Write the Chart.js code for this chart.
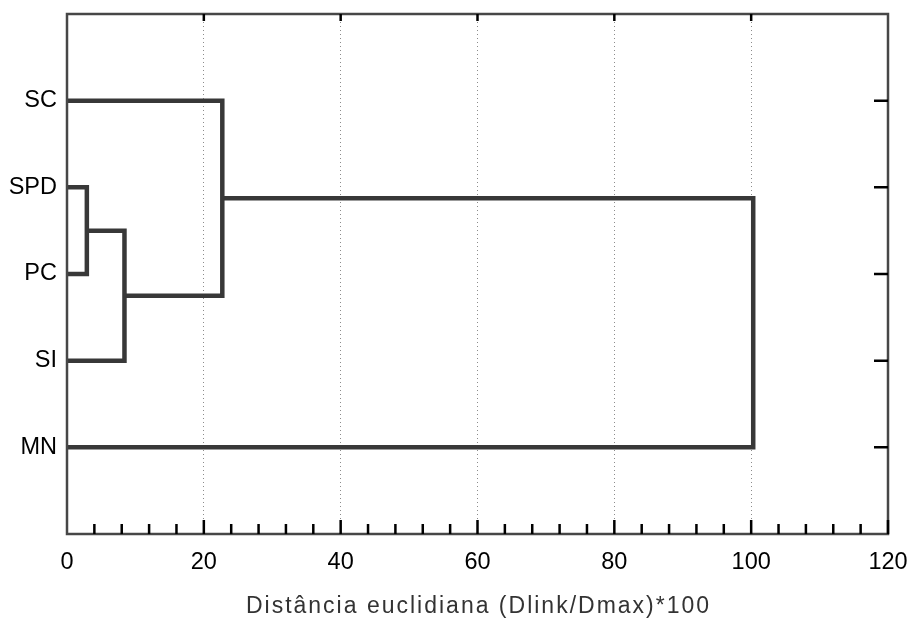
<!DOCTYPE html>
<html lang="pt">
<head>
    <meta charset="UTF-8">
    <title>Dendrograma</title>
    <style>
        body {
            margin: 0;
            background: #ffffff;
        }
        .chart-container {
            width: 911px;
            height: 622px;
        }
    </style>
</head>
<body>
    <div class="chart-container">
        <canvas id="dendroChart" width="911" height="622"></canvas>
    </div>
    <script src="https://cdn.jsdelivr.net/npm/chart.js"></script>
    <script>
        // leaves from top to bottom
        const leaves = ['SC', 'SPD', 'PC', 'SI', 'MN'];
        // each merge joins two clusters (leaves are 0..4, merges are 5, 6, ...)
        const mergePairs = [[1, 2], [5, 3], [0, 6], [7, 4]];
        const mergeHeights = [2.9, 8.4, 22.7, 100.3];
        const xTicks = [0, 20, 40, 60, 80, 100, 120];
        const xTitle = 'Distância euclidiana (Dlink/Dmax)*100';

        const lineColor = '#383838';
        const fontFamily = 'Arial, "Liberation Sans", sans-serif';

        // position of every cluster: leaves at x=0, merges at their height
        const nodes = leaves.map((name, i) => ({ x: 0, y: i + 1 }));
        const datasets = [];
        mergePairs.forEach((pair, i) => {
            const a = nodes[pair[0]];
            const b = nodes[pair[1]];
            const h = mergeHeights[i];
            datasets.push({
                data: [
                    { x: a.x, y: a.y },
                    { x: h, y: a.y },
                    { x: h, y: b.y },
                    { x: b.x, y: b.y }
                ],
                showLine: true,
                borderColor: lineColor,
                borderWidth: 4.5,
                borderJoinStyle: 'miter',
                borderCapStyle: 'butt',
                pointRadius: 0,
                fill: false,
                tension: 0
            });
            nodes.push({ x: h, y: (a.y + b.y) / 2 });
        });

        // frame, inward tick marks and the spaced-out axis title
        const framePlugin = {
            id: 'frame',
            afterDatasetsDraw(chart) {
                const { ctx, chartArea: area, scales } = chart;
                ctx.save();
                ctx.strokeStyle = '#474747';
                ctx.lineWidth = 2.5;
                ctx.strokeRect(area.left, area.top, area.right - area.left, area.bottom - area.top);

                ctx.strokeStyle = '#000000';
                ctx.lineWidth = 2.5;
                ctx.beginPath();
                for (let v = 4; v <= 120; v += 4) {
                    const px = scales.x.getPixelForValue(v);
                    const major = v % 20 === 0;
                    ctx.moveTo(px, area.bottom);
                    ctx.lineTo(px, area.bottom - (major ? 14 : 10));
                    if (major && v < 120) {
                        ctx.moveTo(px, area.top);
                        ctx.lineTo(px, area.top + 7);
                    }
                }
                leaves.forEach((name, i) => {
                    const py = scales.y.getPixelForValue(i + 1);
                    ctx.moveTo(area.right, py);
                    ctx.lineTo(area.right - 14, py);
                });
                ctx.stroke();

                ctx.font = '23px ' + fontFamily;
                ctx.fillStyle = '#333333';
                ctx.textAlign = 'center';
                ctx.textBaseline = 'middle';
                ctx.letterSpacing = '2px';
                ctx.fillText(xTitle, (area.left + area.right) / 2 + 1, 607);
                ctx.restore();
            }
        };

        new Chart(document.getElementById('dendroChart'), {
            type: 'scatter',
            data: { datasets: datasets },
            options: {
                responsive: false,
                animation: false,
                layout: { padding: { top: 14, right: 23, left: 0, bottom: 0 } },
                plugins: {
                    legend: { display: false },
                    tooltip: { enabled: false }
                },
                scales: {
                    x: {
                        type: 'linear',
                        min: 0,
                        max: 120,
                        afterBuildTicks: scale => {
                            scale.ticks = xTicks.map(v => ({ value: v }));
                        },
                        afterFit: scale => {
                            scale.height = 88;
                            scale.paddingLeft = 0;
                            scale.paddingRight = 0;
                        },
                        ticks: {
                            color: '#000000',
                            padding: 14,
                            font: { family: fontFamily, size: 23.5 }
                        },
                        grid: {
                            drawTicks: false,
                            color: ctx => (ctx.tick && ctx.tick.value > 0 && ctx.tick.value < 120) ? '#8c8c8c' : 'rgba(0,0,0,0)',
                            lineWidth: 1
                        },
                        border: { display: false, dash: [1, 3] }
                    },
                    y: {
                        type: 'linear',
                        min: 0,
                        max: 6,
                        reverse: true,
                        afterBuildTicks: scale => {
                            scale.ticks = leaves.map((name, i) => ({ value: i + 1 }));
                        },
                        afterFit: scale => {
                            scale.width = 67;
                            scale.paddingTop = 0;
                            scale.paddingBottom = 0;
                        },
                        ticks: {
                            color: '#000000',
                            padding: 10,
                            font: { family: fontFamily, size: 23.5 },
                            callback: value => leaves[value - 1]
                        },
                        grid: { display: false, drawTicks: false },
                        border: { display: false }
                    }
                }
            },
            plugins: [framePlugin]
        });
    </script>
</body>
</html>
